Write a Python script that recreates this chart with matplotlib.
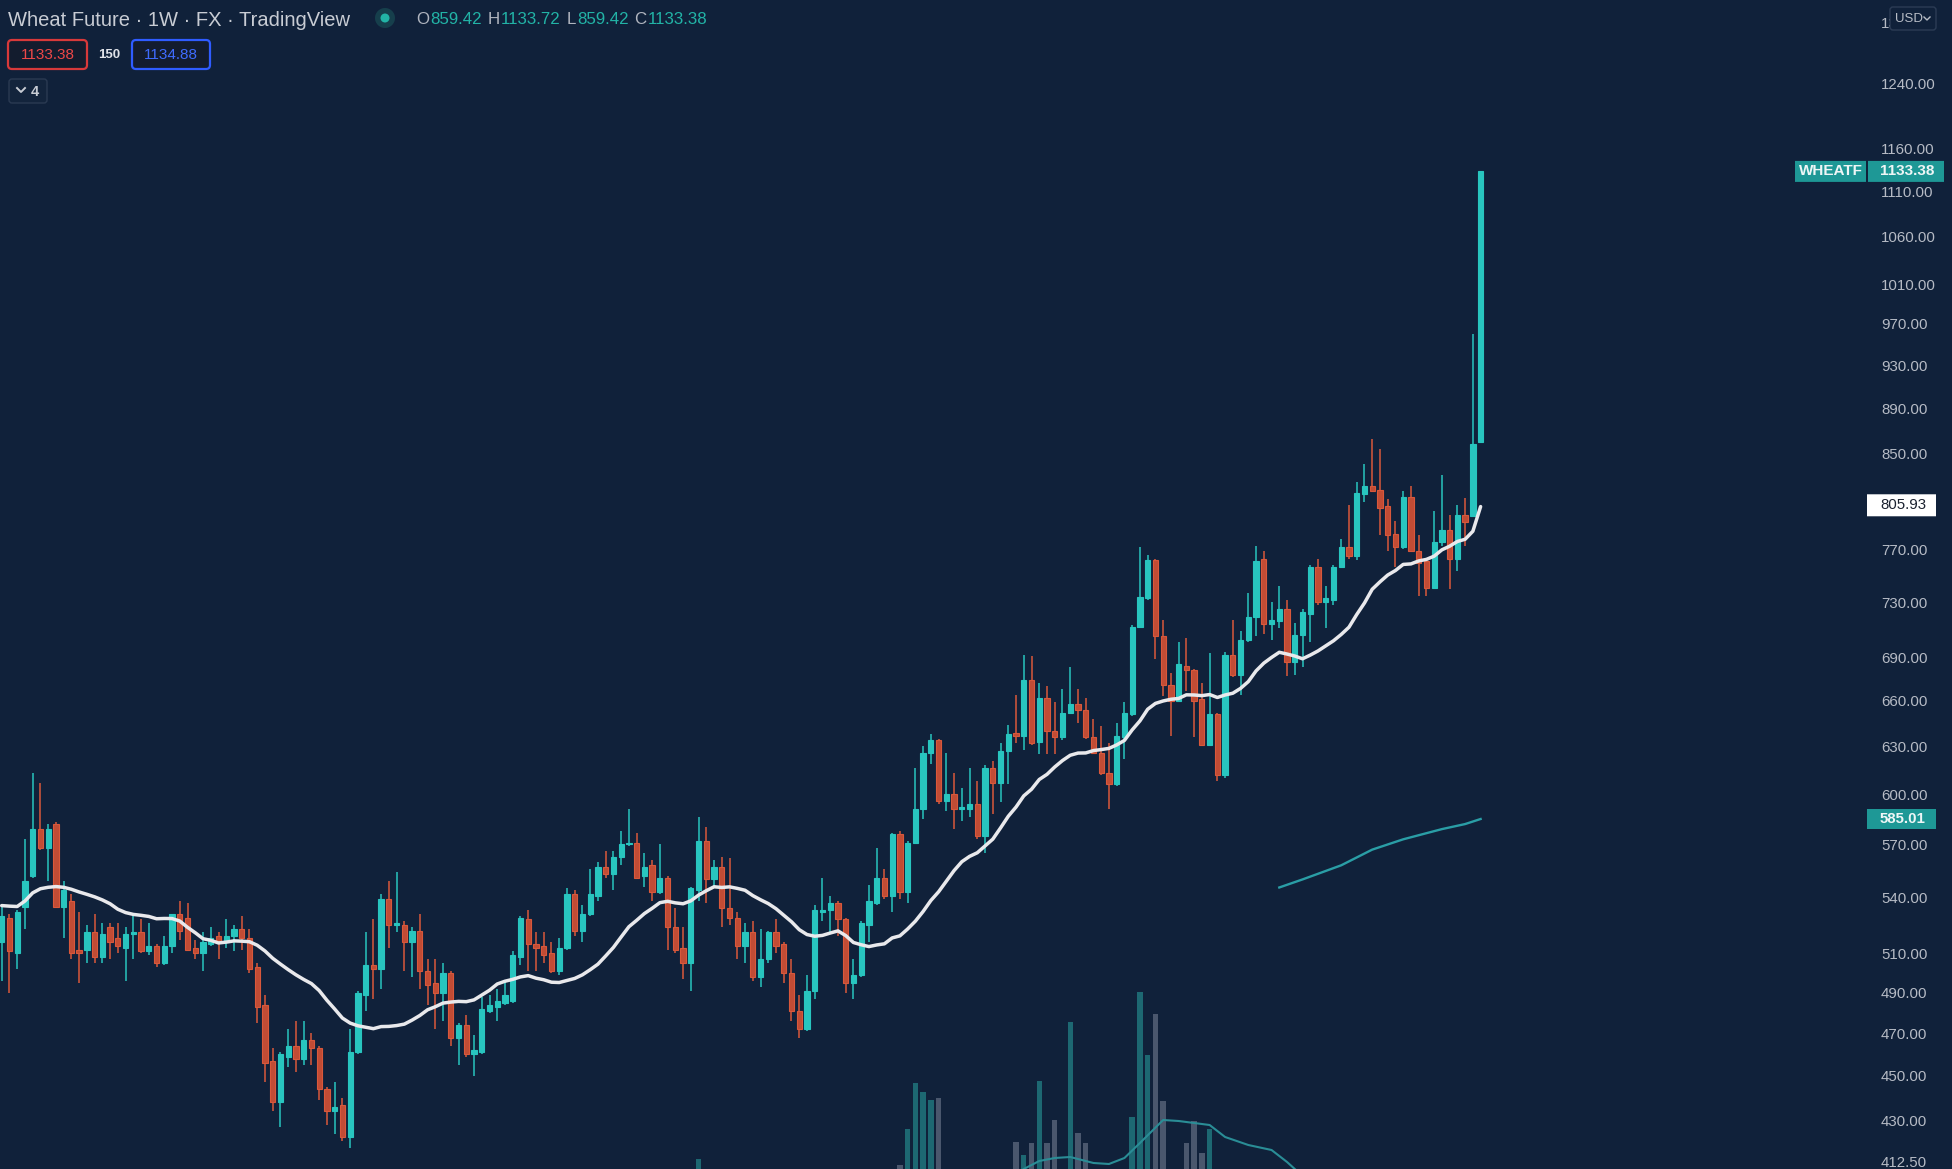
import matplotlib
matplotlib.use("Agg")
import matplotlib.pyplot as plt
from matplotlib.patches import FancyBboxPatch, Circle
from matplotlib.lines import Line2D
from matplotlib.transforms import Affine2D
from matplotlib.ticker import FixedLocator, FixedFormatter, NullLocator
import numpy as np
import pandas as pd

# weekly candles, Wheat Future
opens = [516, 529, 510, 535, 552, 579, 568, 582, 535, 538,
         512, 512, 521, 508, 524, 518, 513, 520, 521, 511,
         514, 505, 514, 531, 529, 513, 510, 515, 519, 516,
         519, 523, 518, 503, 484, 457, 438, 459, 464, 458,
         467, 463, 444, 434, 437, 423, 461, 489, 504, 502,
         539, 525, 525, 516, 522, 501, 495, 490, 500, 468,
         474, 460, 461, 481, 483, 485, 486, 508, 528, 515,
         514, 510, 501, 513, 542, 522, 531, 541, 557, 553,
         563, 570, 571, 552, 558, 543, 551, 524, 513, 505,
         544, 572, 550, 557, 534, 529, 514, 521, 498, 507,
         521, 515, 500, 481, 472, 491, 532, 533, 537, 528,
         495, 499, 525, 537, 551, 541, 576, 543, 571, 591,
         626, 634, 596, 600, 591, 591, 594, 575, 616, 607,
         627, 639, 637, 674, 633, 662, 640, 636, 652, 658,
         654, 636, 626, 613, 606, 636, 651, 712, 733, 762,
         705, 671, 660, 684, 681, 661, 631, 651, 612, 692,
         678, 702, 719, 763, 714, 716, 725, 687, 706, 721,
         757, 730, 732, 757, 772, 765, 815, 822, 819, 805,
         783, 772, 813, 769, 761, 741, 776, 786, 763, 798,
         797, 859.42]
highs = [535, 531, 533, 573, 613, 607, 582, 583, 549, 542,
         532, 525, 531, 526, 526, 526, 524, 530, 528, 526,
         515, 519, 531, 538, 537, 517, 521, 524, 521, 528,
         525, 530, 523, 505, 489, 463, 461, 472, 476, 476,
         470, 464, 445, 447, 440, 472, 491, 521, 528, 542,
         549, 554, 527, 524, 531, 507, 507, 505, 501, 475,
         479, 469, 488, 489, 492, 496, 511, 530, 533, 521,
         521, 516, 518, 545, 544, 536, 556, 560, 566, 566,
         578, 591, 577, 565, 561, 570, 552, 534, 524, 546,
         586, 580, 561, 563, 562, 532, 526, 527, 523, 522,
         528, 516, 507, 489, 499, 536, 551, 541, 538, 529,
         507, 527, 547, 568, 556, 577, 578, 572, 616, 630,
         638, 635, 626, 613, 604, 616, 608, 618, 621, 632,
         644, 664, 692, 691, 672, 670, 659, 668, 683, 668,
         662, 648, 643, 632, 645, 659, 713, 772, 766, 763,
         717, 679, 701, 704, 682, 672, 693, 652, 694, 717,
         709, 737, 773, 769, 730, 742, 732, 715, 725, 758,
         763, 742, 758, 779, 806, 825, 841, 862, 854, 811,
         793, 818, 822, 782, 762, 801, 831, 798, 806, 812,
         960, 1133.72]
lows = [496, 490, 502, 523, 551, 567, 549, 534, 518, 507,
        495, 505, 505, 505, 507, 510, 496, 507, 510, 509,
        503, 504, 510, 517, 511, 507, 501, 514, 507, 513,
        511, 512, 500, 475, 447, 434, 427, 454, 452, 455,
        455, 439, 428, 424, 421, 418, 460, 481, 487, 492,
        513, 521, 501, 498, 492, 484, 472, 476, 464, 455,
        459, 450, 460, 480, 476, 484, 485, 504, 501, 501,
        505, 500, 499, 512, 519, 516, 530, 538, 551, 544,
        558, 569, 550, 546, 538, 542, 512, 510, 497, 491,
        538, 537, 546, 524, 525, 507, 505, 496, 493, 505,
        510, 495, 476, 468, 471, 487, 527, 521, 519, 490,
        487, 498, 516, 536, 539, 532, 539, 537, 570, 585,
        619, 594, 590, 579, 584, 586, 573, 565, 588, 595,
        606, 632, 628, 631, 625, 625, 625, 634, 651, 645,
        635, 625, 612, 591, 605, 622, 650, 711, 732, 689,
        663, 637, 659, 667, 636, 630, 630, 608, 610, 676,
        664, 701, 705, 707, 702, 711, 677, 678, 683, 701,
        728, 711, 728, 756, 763, 762, 809, 817, 782, 769,
        757, 771, 768, 735, 735, 740, 773, 740, 754, 773,
        796, 859.42]
closes = [530, 511, 532, 549, 579, 568, 579, 535, 544, 510,
          510, 521, 508, 520, 516, 514, 520, 521, 511, 514,
          505, 514, 531, 522, 512, 510, 516, 518, 516, 519,
          523, 518, 502, 483, 456, 438, 460, 464, 458, 467,
          463, 444, 434, 436, 423, 461, 490, 504, 502, 539,
          525, 526, 516, 522, 501, 494, 490, 500, 468, 474,
          460, 462, 482, 484, 486, 489, 509, 529, 515, 513,
          509, 501, 513, 542, 522, 531, 542, 557, 553, 563,
          570, 571, 551, 557, 543, 551, 524, 512, 505, 545,
          572, 550, 557, 534, 529, 514, 521, 498, 507, 521,
          514, 500, 481, 472, 491, 533, 533, 537, 528, 495,
          499, 526, 538, 551, 541, 576, 543, 571, 591, 626,
          634, 596, 600, 591, 592, 594, 575, 616, 607, 627,
          638, 637, 674, 632, 662, 640, 636, 652, 658, 654,
          636, 626, 613, 606, 637, 652, 712, 734, 762, 705,
          671, 660, 685, 681, 660, 631, 651, 612, 692, 678,
          702, 719, 761, 714, 717, 725, 687, 706, 723, 757,
          730, 733, 757, 772, 765, 816, 822, 818, 804, 782,
          772, 813, 769, 760, 741, 776, 786, 763, 798, 792,
          858, 1133.38]

# first 19 points of the 20-week average (history before the window is not visible)
ma_head = [535.5, 535.2, 535.0, 538.0, 542.5, 544.8, 545.6, 546.0, 545.6, 544.5,
           543.0, 541.7, 540.3, 538.6, 536.5, 533.5, 531.7, 530.7, 530.2]
ma_last_label = 805.93   # value printed on the scale for the white average

# long average (teal), only its last part is on screen
long_ma_idx = [165, 168, 173, 177, 181, 186, 189, 191]
long_ma_vals = [545.5, 550.0, 558.0, 567.0, 573.0, 579.0, 582.0, 585.01]

# volume bars that reach into view (relative units) and the volume average
vol_idx = [90, 116, 117, 118, 119, 120, 121, 131, 132, 133, 134, 135, 136,
           138, 139, 140, 146, 147, 148, 149, 150, 153, 154, 155, 156]
vol_vals = [10, 4, 40, 86, 77, 69, 71, 27, 14, 26, 88, 26, 49,
            147, 36, 26, 52, 177, 114, 155, 68, 26, 48, 16, 40]
vma_idx = [132, 134, 136, 138, 141, 143, 145, 147, 150, 152, 154, 156, 158, 161, 164, 166, 167]
vma_vals = [0, 8, 11, 12, 6, 5, 11, 26, 49, 48, 46, 44, 32, 24, 19, 7, 0]

price_ticks = [1320, 1240, 1160, 1110, 1060, 1010, 970, 930, 890, 850, 810, 770,
               730, 690, 660, 630, 600, 570, 540, 510, 490, 470, 450, 430, 412.5]

W, H = 1952, 1169
BG = "#10213a"
UP = "#28c5bf"
DOWN = "#d9583b"
DOWN_FILL = "#c14c35"
LABEL = "#b6bbc5"
TEAL_TAG = "#1e9896"
PLOT_R = 1865
STEP = 7.743

plt.rcParams['font.family'] = ['Liberation Sans', 'DejaVu Sans']

fig = plt.figure(figsize=(W / 100, H / 100), dpi=100, facecolor=BG)
pix = Affine2D().scale(1, -1).translate(0, H)   # pixels measured from the top-left

xlo = -1.7 / STEP
xhi = (PLOT_R - 1.7) / STEP

o = np.array(opens); h = np.array(highs); l = np.array(lows); c = np.array(closes)
idx = np.arange(len(c))
up = c >= o

# volume overlay
axv = fig.add_axes([0, 0, PLOT_R / W, 1], zorder=0)
axv.set_facecolor(BG)
vcol = ["#1d6872" if up[i] else "#4a576d" for i in vol_idx]
axv.bar(vol_idx, vol_vals, width=0.7, color=vcol, linewidth=0)
axv.plot(vma_idx, vma_vals, color="#2a8d96", lw=1.5)
axv.set_xlim(xlo, xhi)
axv.set_ylim(0, H)
axv.axis("off")

# price pane
ax = fig.add_axes([0, 0, PLOT_R / W, 1], zorder=1)
ax.set_facecolor("none")
ax.set_yscale("log")
ax.set_xlim(xlo, xhi)
ax.set_ylim(409.2, 1350.2)

edge = np.where(up, UP, DOWN)
fill = np.where(up, UP, DOWN_FILL)
ax.vlines(idx, l, h, colors=edge, linewidth=1.1, zorder=2)
ax.bar(idx, np.abs(c - o), bottom=np.minimum(o, c), width=0.68, color=fill,
       edgecolor=edge, linewidth=0.8, zorder=3)

ma = pd.Series(closes).rolling(20).mean().to_numpy()
ma[:len(ma_head)] = ma_head
ax.plot(idx, ma, color="#e9e9ec", lw=2.5, zorder=5, solid_capstyle="round")
ax.plot(long_ma_idx, long_ma_vals, color="#2a9ea6", lw=1.7, zorder=4)

for s in ax.spines.values():
    s.set_visible(False)
ax.set_xticks([])
ax.yaxis.tick_right()
ax.yaxis.set_major_locator(FixedLocator(price_ticks))
ax.yaxis.set_major_formatter(FixedFormatter(["%.2f" % t for t in price_ticks]))
ax.yaxis.set_minor_locator(NullLocator())
ax.tick_params(axis="y", length=0, pad=11.5, labelsize=10.8, labelcolor=LABEL)


def ypix(val):
    # pixel row (from top) of a price on the log axis
    return H - ax.transData.transform((0, val))[1]


def box(x0, y0, x1, y1, fc, ec="none", lw=0, r=0):
    p = FancyBboxPatch((x0, y0), x1 - x0, y1 - y0,
                       boxstyle="round,pad=0,rounding_size=%g" % r,
                       fc=fc, ec=ec, lw=lw, transform=pix, zorder=20)
    fig.add_artist(p)


def label(x, y, s, colr, size, **kw):
    kw.setdefault("ha", "left")
    return fig.text(x, y, s, color=colr, fontsize=size, va="center",
                    transform=pix, zorder=21, **kw)


def run(x, y, pieces, size, weight="normal"):
    r = fig.canvas.get_renderer()
    for s, colr, gap in pieces:
        t = label(x, y, s, colr, size, weight=weight)
        x += t.get_window_extent(renderer=r).width + gap
    return x


# header
run(8, 20, [("Wheat Future · 1W · FX · TradingView", "#c8ccd4", 0)], 14.5)
fig.add_artist(Circle((385, 18), 10, fc="#163f4c", ec="none", transform=pix, zorder=20))
fig.add_artist(Circle((385, 18), 4.5, fc="#22b3a6", ec="none", transform=pix, zorder=21))
tl = "#22b3a6"
gl = "#b0b5bf"
run(416, 20, [("O", gl, 1), ("859.42", tl, 6), ("H", gl, 1), ("1133.72", tl, 6),
              ("L", gl, 1), ("859.42", tl, 6), ("C", gl, 1), ("1133.38", tl, 0)], 12.2)

box(8, 40, 87, 69, fc="#131c2e", ec="#d8393a", lw=1.6, r=4)
label(47.5, 55, "1133.38", "#ef4848", 11, ha="center")
label(109, 55, "150", "#dfe2e8", 9.5, weight="bold", ha="center")
box(132, 40, 210, 69, fc="#131c2e", ec="#2f5cff", lw=1.6, r=4)
label(171, 55, "1134.88", "#3f6cff", 11, ha="center")

box(9, 79, 47, 103, fc="#13243c", ec="#2a3a52", lw=1.0, r=3)
fig.add_artist(Line2D([17, 21, 25], [88, 92, 88], color="#c8ccd4", lw=1.4, transform=pix, zorder=21))
label(31, 91.5, "4", "#c8ccd4", 10.5, weight="bold")

# currency button covering the top tick
box(1890, 7, 1936, 30, fc=BG, ec="#2c3c55", lw=1.0, r=3)
label(1895, 18.5, "USD", "#b8bdc6", 9.5)
fig.add_artist(Line2D([1924, 1927, 1930], [17, 20, 17], color="#b8bdc6", lw=1.0, transform=pix, zorder=21))

# price tags on the scale
yl = ypix(closes[-1])
box(1795, yl - 10.5, 1866, yl + 10.5, fc=TEAL_TAG)
box(1868, yl - 10.5, 1944, yl + 10.5, fc=TEAL_TAG)
label(1830.5, yl, "WHEATF", "#eef6f6", 11, weight="bold", ha="center")
label(1880, yl, "%.2f" % closes[-1], "#eef6f6", 11, weight="bold")

ym = ypix(ma_last_label)
box(1867, ym - 11, 1936, ym + 11, fc="#ffffff")
label(1880, ym, "%.2f" % ma_last_label, "#1b2230", 10.8)

yt = ypix(long_ma_vals[-1])
box(1867, yt - 10, 1936, yt + 10, fc=TEAL_TAG)
label(1880, yt, "%.2f" % long_ma_vals[-1], "#eef6f6", 10.8, weight="bold")

fig.savefig("out.png", dpi=100, facecolor=BG)
